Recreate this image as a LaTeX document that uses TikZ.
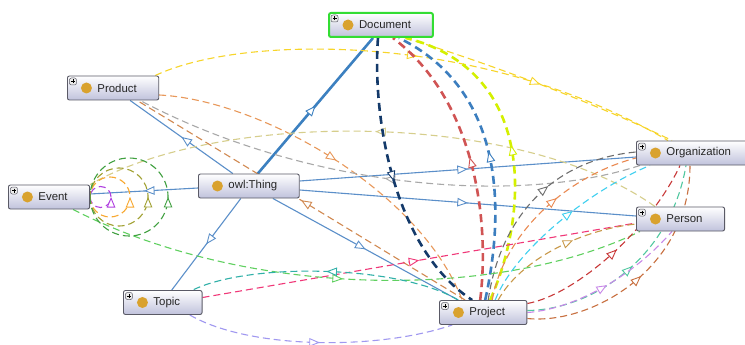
\documentclass[tikz,border=0pt]{standalone}
\usepackage{fontspec}
\setmainfont{Liberation Sans}
\usetikzlibrary{arrows.meta, positioning, backgrounds, decorations.markings}
\definecolor{ogborder}{HTML}{5A5A66}
\definecolor{ogfill}{HTML}{C0C2DC}
\definecolor{oggold}{HTML}{D9A22E}
\definecolor{oggreen}{HTML}{33DD33}
\definecolor{ogsub}{HTML}{5B8FC9}
\definecolor{ogsubdark}{HTML}{3C80C0}
\definecolor{ogyellow}{HTML}{F7D52A}
\definecolor{ogorange}{HTML}{E8985A}
\definecolor{oggray}{HTML}{A8A8A8}
\definecolor{ogdarkgray}{HTML}{6E6E6E}
\definecolor{ogkhaki}{HTML}{D6CE8C}
\definecolor{ognavy}{HTML}{143A6A}
\definecolor{ogred}{HTML}{D05454}
\definecolor{ogblue}{HTML}{3C7EBF}
\definecolor{oglime}{HTML}{D4F000}
\definecolor{ogcyan}{HTML}{40D0F0}
\definecolor{ogpink}{HTML}{F03878}
\definecolor{oggoldline}{HTML}{C89848}
\definecolor{oglightgreen}{HTML}{60D060}
\definecolor{ogteal}{HTML}{30B0A8}
\definecolor{oglavender}{HTML}{A098F0}
\definecolor{ogdarkred}{HTML}{C83838}
\definecolor{ogseagreen}{HTML}{50C8A0}
\definecolor{ogviolet}{HTML}{C888E8}
\definecolor{ogbrown}{HTML}{C87040}
\definecolor{ogpurple}{HTML}{B040E0}
\definecolor{ogamber}{HTML}{F8A830}
\definecolor{ogolive}{HTML}{A0A030}
\definecolor{ogforest}{HTML}{40A040}

\begin{document}
\begin{tikzpicture}[x=1pt, y=-1pt,
  every node/.style={font=\fontsize{11.4}{13}\selectfont, text=black!85},
  tri/.tip={Triangle[length=10.5pt, width=8.5pt, fill=white, line width=0.9pt]},
  arr/.style={postaction={decorate}, decoration={markings, mark=at position #1 with {\arrow{tri}}}},
  arr/.default=0.5,
  thingbox/.style={rectangle, rounded corners=2pt, draw=ogborder, line width=0.9pt, top color=white, bottom color=ogfill, minimum height=24pt, inner xsep=22pt, inner ysep=0pt, anchor=west, execute at begin node={\hspace*{8pt}},
    path picture={\fill[oggold] ([xshift=19pt]path picture bounding box.west) circle (5.5pt);}},
  cls/.style={thingbox,
    path picture={\fill[oggold] ([xshift=19pt]path picture bounding box.west) circle (5.5pt);
      \draw[ogborder, fill=black!8, line width=0.5pt] ([shift={(2pt,-2pt)}]path picture bounding box.north west) rectangle ++(7pt,-7pt);
      \draw[black, line width=0.6pt] ([shift={(3.5pt,-5.5pt)}]path picture bounding box.north west) -- ++(4pt,0pt);
      \draw[black, line width=0.6pt] ([shift={(5.5pt,-3.5pt)}]path picture bounding box.north west) -- ++(0pt,-4pt);}},
  sub/.style={ogsub, line width=1.1pt},
  prop/.style={line width=1.1pt, dash pattern=on 7pt off 4pt},
  thickprop/.style={line width=2.6pt, dash pattern=on 8pt off 5pt},
]
\useasboundingbox (0,0) rectangle (745,345);

% Classes
\node[cls, draw=oggreen, line width=2pt] (doc) at (328,25) {Document};
\node[cls] (prod) at (67,88) {Product};
\node[cls] (ev) at (8,197) {Event};
\node[thingbox] (thing) at (198,186) {owl:Thing};
\node[cls] (topic) at (123,302.5) {Topic};
\node[cls] (proj) at (439,312.5) {Project};
\node[cls] (org) at (636,153) {Organization};
\node[cls] (pers) at (636,219) {Person};

\begin{scope}[on background layer]
\fill[white] (0,0) rectangle (745,345);

% Subclass links
\draw[sub, ogsubdark, line width=2.6pt, arr] ([xshift=9pt]thing.north) -- ([xshift=-8pt]doc.south);
\draw[sub, arr] ([xshift=-16pt]thing.north) -- ([xshift=17pt]prod.south);
\draw[sub, arr] ([yshift=-2pt]thing.west) -- ([yshift=3pt]ev.east);
\draw[sub, arr] ([xshift=-8pt]thing.south) -- ([xshift=9pt]topic.north);
\draw[sub, arr] ([xshift=24pt]thing.south) -- ([xshift=-25pt]proj.north);
\draw[sub, arr] ([yshift=5pt]thing.east) -- ([yshift=-4pt]org.west);
\draw[sub, arr] ([yshift=-4pt]thing.east) -- ([yshift=3pt]pers.west);

% Object properties
\draw[prop, ogyellow, arr] ([xshift=-4pt]prod.north east) .. controls (240,35) and (480,30) .. ([xshift=32pt]org.north west);
\draw[prop, ogyellow, arr] ([xshift=-29pt]doc.south east) .. controls (480,60) and (600,105) .. ([xshift=36pt]org.north west);
\draw[prop, ogorange, arr] ([yshift=-7pt]prod.east) .. controls (260,100) and (420,190) .. ([xshift=-21pt]proj.north);
\draw[prop, ogorange!90!black, arr] ([xshift=-18pt]proj.north) -- ([xshift=24pt]prod.south);
\draw[prop, oggray, arr] ([xshift=4pt]org.south west) .. controls (520,205) and (310,190) .. ([xshift=27pt]prod.south);
\draw[prop, ogkhaki, arr] ([xshift=19pt]pers.north west) .. controls (520,110) and (220,110) .. (ev.north east);
\draw[thickprop, ognavy, arr] ([xshift=-3pt]doc.south) .. controls (372,120) and (395,250) .. ([xshift=-11pt]proj.north);
\draw[thickprop, ogred, arr] ([xshift=-3pt]proj.north) .. controls (490,220) and (475,100) .. ([xshift=12pt]doc.south);
\draw[thickprop, ogblue, arr] ([xshift=2pt]proj.north) .. controls (505,210) and (505,90) .. ([xshift=18pt]doc.south);
\draw[thickprop, oglime, arr] ([xshift=7pt]proj.north) .. controls (530,210) and (535,70) .. ([xshift=25pt]doc.south);
\draw[prop, ogdarkgray, arr=0.58] ([xshift=5pt]proj.north) .. controls (500,220) and (550,160) .. ([yshift=1pt]org.west);
\draw[prop, ogorange!90!red, arr=0.58] ([xshift=9pt]proj.north) .. controls (505,230) and (570,175) .. ([yshift=-5pt]org.west);
\draw[prop, ogcyan, arr=0.57] ([xshift=12pt]proj.north) .. controls (515,250) and (590,190) .. ([xshift=14pt]org.south west);
\draw[prop, ogpink, arr] ([yshift=5pt]topic.east) -- ([yshift=-4pt]pers.west);
\draw[prop, oggoldline, arr=0.6] ([xshift=15pt]proj.north) .. controls (520,260) and (580,230) .. ([yshift=-5pt]pers.west);
\draw[prop, oglightgreen, arr=0.48] ([xshift=24pt]ev.south) .. controls (250,300) and (500,300) .. ([xshift=4pt]pers.south west);
\draw[prop, ogteal, arr] ([xshift=-25pt]proj.north) .. controls (400,265) and (250,262) .. ([xshift=30pt]topic.north);
\draw[prop, oglavender, arr] ([xshift=27pt]topic.south) .. controls (250,350) and (380,350) .. ([xshift=-31pt]proj.south);
\draw[prop, ogdarkred, arr] ([yshift=9pt]proj.east) .. controls (575,295) and (650,230) .. ([xshift=44pt]org.south west);
\draw[prop, ogseagreen, arr] ([yshift=2pt]proj.east) .. controls (590,310) and (670,260) .. ([xshift=50pt]org.south west);
\draw[prop, ogviolet, arr] (proj.east) .. controls (565,310) and (625,285) .. ([xshift=36pt]pers.south west);
\draw[prop, ogbrown, arr] ([yshift=-6pt]proj.east) .. controls (590,325) and (690,270) .. ([xshift=54pt]org.south west);

% Self loops on Event
\draw[prop, ogpurple, arr] (ev.east) arc[start angle=180, end angle=540, radius=10.5pt];
\draw[prop, ogamber, arr] (ev.east) arc[start angle=180, end angle=540, radius=20pt];
\draw[prop, ogolive, arr] (ev.east) arc[start angle=180, end angle=540, radius=29pt];
\draw[prop, ogforest, arr] (ev.east) arc[start angle=180, end angle=540, radius=39pt];
\end{scope}

\end{tikzpicture}
\end{document}
